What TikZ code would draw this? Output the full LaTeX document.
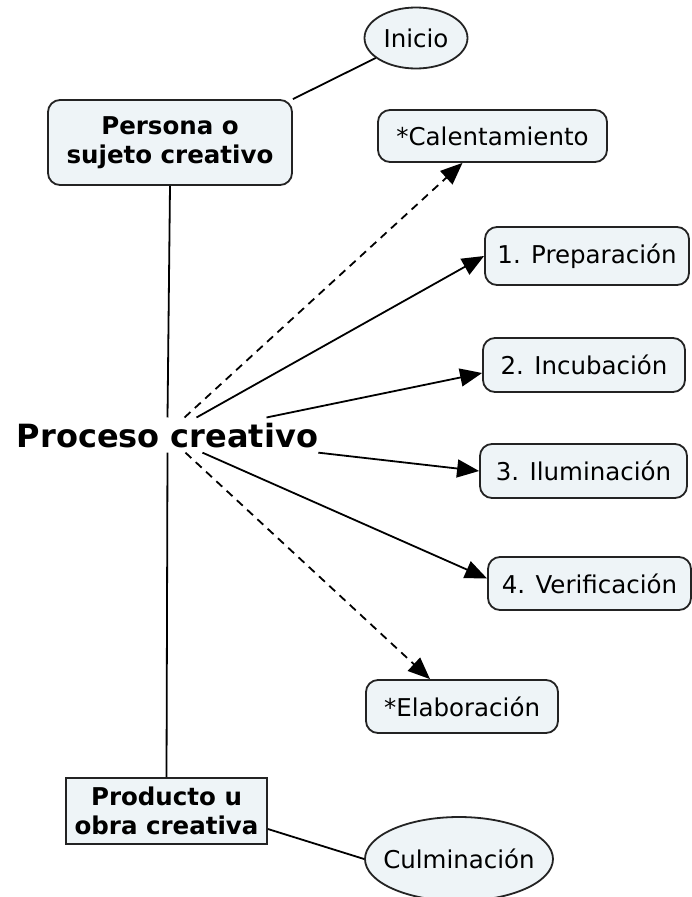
\documentclass[tikz,border=0pt]{standalone}
\usepackage{fontspec}
\setmainfont{DejaVu Sans}
\usetikzlibrary{shapes.geometric,arrows.meta}
\definecolor{boxfill}{RGB}{238,244,247}
\definecolor{edge}{RGB}{35,35,35}
\tikzset{
  lbl/.style={font=\fontsize{24.5}{29}\selectfont},
  blbl/.style={font=\fontsize{24.5}{29}\selectfont\bfseries, align=center},
  rbox/.style={draw=edge, line width=1.8pt, fill=boxfill, rounded corners=12pt, inner sep=0pt, lbl},
  sbox/.style={draw=edge, line width=1.8pt, fill=boxfill, inner sep=0pt, blbl},
  ebox/.style={draw=edge, line width=1.8pt, fill=boxfill, ellipse, inner sep=-30pt, lbl},
  link/.style={draw=black, line width=1.8pt},
  arr/.style={link, -{Triangle[length=22pt,width=18pt]}},
  darr/.style={arr, dash pattern=on 8pt off 6pt},
}
\begin{document}
\begin{tikzpicture}[x=1pt,y=-1pt]
\useasboundingbox[fill=white] (0,0) rectangle (691,897);
% nodes
\node[ebox, minimum width=103pt, minimum height=61pt] (ini) at (416,38) {Inicio};
\node[rbox, blbl, minimum width=244pt, minimum height=85pt] (per) at (170,142.5) {Persona o\\sujeto creativo};
\node[rbox, minimum width=229pt, minimum height=52pt] (cal) at (492.5,136) {*Calentamiento};
\node[rbox, minimum width=204pt, minimum height=58pt] (p1) at (587,256) {1. Preparación};
\node[rbox, minimum width=202pt, minimum height=54pt] (p2) at (584,365) {2. Incubación};
\node[rbox, minimum width=207pt, minimum height=54pt] (p3) at (583.5,471) {3. Iluminación};
\node[rbox, minimum width=203pt, minimum height=53pt] (p4) at (589.5,583.5) {4. Verificación};
\node[rbox, minimum width=192pt, minimum height=53pt] (ela) at (462,706.5) {*Elaboración};
\node[sbox, minimum width=201pt, minimum height=66pt] (pro) at (166.5,811) {Producto u\\obra creativa};
\node[ebox, minimum width=188pt, minimum height=84pt] (cul) at (459,859) {Culminación};
\node[font=\fontsize{32}{38}\selectfont\bfseries, inner xsep=0pt, inner ysep=5pt, anchor=base] (proc) at (167.5,447) {Proceso creativo};
% connectors
\draw[link] (per.north east) -- (ini);
\draw[link] (per.south) -- (proc.north);
\draw[link] (proc.south) -- (pro.north);
\draw[link] ([yshift=-18pt]pro.east) -- (cul.west);
\draw[darr] ([xshift=17pt]proc.north) -- ([xshift=-30pt]cal.south);
\draw[arr] ([xshift=29pt]proc.north) -- (p1.west);
\draw[arr] ([xshift=99pt]proc.north) -- ([yshift=-8pt]p2.west);
\draw[arr] (proc.south east) -- (p3.west);
\draw[arr] ([xshift=35pt]proc.south) -- ([yshift=5pt]p4.west);
\draw[darr] ([xshift=18pt]proc.south) -- ([xshift=-32pt]ela.north);
\end{tikzpicture}
\end{document}
